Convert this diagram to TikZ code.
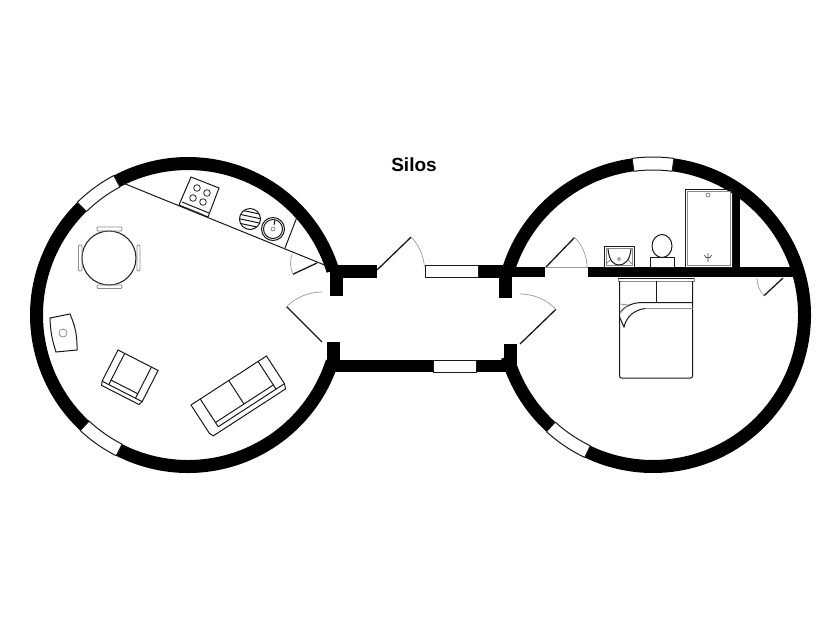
\documentclass[tikz,border=0pt]{standalone}
\usepackage{fontspec}
\setmainfont{Liberation Sans}
\usepackage{xcolor}
\usetikzlibrary{positioning,calc}
\definecolor{swingGrey}{HTML}{9A9A9A}
\definecolor{chairGrey}{HTML}{8C8C8C}
\tikzstyle{wallLine}  =[line width=13pt,line cap=butt,black]
\tikzstyle{wallFill}  =[fill=black,draw=none]
\tikzstyle{thinLine}  =[line width=1pt,black!90]
\tikzstyle{leafLine}  =[line width=1.3pt,black!90]
\tikzstyle{swingLine} =[line width=0.7pt,swingGrey]
\tikzstyle{chairLine} =[line width=0.8pt,chairGrey]
\newcommand{\siloWall}[3]{\draw[wallLine] (#1) ++(#2:151.5) arc[start angle=#2,end angle=#3,radius=151.5];}
\newcommand{\siloWindow}[3]{\draw[thinLine] (#1) ++(#2:158) arc[start angle=#2,end angle=#3,radius=158]
  (#1) ++(#2:145) arc[start angle=#2,end angle=#3,radius=145]
  (#1) ++(#2:145) -- ($(#1)+(#2:158)$)
  (#1) ++(#3:145) -- ($(#1)+(#3:158)$);}
\newcommand{\doorLeaf}[5]{\draw[leafLine] (#1,#2) -- ++(#3:#4);
  \draw[swingLine] (#1,#2) ++(#3:#4) arc[start angle=#3,end angle=#5,radius=#4];}
\begin{document}
\begin{tikzpicture}[x=1pt,y=-1pt]
  \useasboundingbox (0,0) rectangle (840,630);
  \coordinate (leftSilo) at (188,315);
  \coordinate (rightSilo) at (653,315);
  \node[font=\fontsize{19}{19}\selectfont\bfseries] (title) at (414,165) {Silos};

  \siloWall{leftSilo}{18}{117}
  \siloWall{leftSilo}{133}{225.5}
  \siloWall{leftSilo}{242}{343}
  \siloWall{rightSilo}{196}{262.4}
  \siloWall{rightSilo}{277.6}{475.6}
  \siloWall{rightSilo}{132.4}{164}
  \siloWindow{leftSilo}{117}{133}
  \siloWindow{leftSilo}{225.5}{242}
  \siloWindow{rightSilo}{262.4}{277.6}
  \siloWindow{rightSilo}{115.6}{132.4}

  \fill[wallFill] (330,265) rectangle (377,277.5);
  \fill[wallFill] (330,265) rectangle (343,296);
  \fill[wallFill] (478,265) rectangle (512,277.5);
  \fill[wallFill] (498.5,265) rectangle (512,298);
  \fill[wallFill] (498.5,267) rectangle (545,277);
  \fill[wallFill] (588,267) rectangle (795,277);
  \fill[wallFill] (733,190) rectangle (740,270);
  \fill[wallFill] (327,342) rectangle (340,372);
  \fill[wallFill] (327,360) rectangle (433,372);
  \fill[wallFill] (476.5,360) rectangle (517,372);
  \fill[wallFill] (503.5,344) rectangle (517,372);
  \draw[thinLine] (425,265) rectangle (478,277.5);
  \draw[thinLine] (433,360) rectangle (476.5,372);
  \draw[swingLine] (545,267) -- (588,267);

  \doorLeaf{377}{270}{-44}{47.5}{-4}
  \doorLeaf{322}{342}{225}{50}{270}
  \doorLeaf{520}{344}{316}{50}{270}
  \doorLeaf{546}{267}{-46}{41}{0}
  \doorLeaf{317}{263}{155}{26.5}{200}
  \doorLeaf{783}{278}{137}{26}{180}

  \draw[thinLine] (123,183) -- (327,266);
  \draw[thinLine] (297,217) -- (285,248);

  \draw[thinLine] (191,177) -- (219,188) -- (208,217) -- (179,205) -- cycle;
  \draw[thinLine] (182,202) -- (209,213);
  \draw[line width=0.6pt,black!70] (187,208) -- (202,214);
  \foreach \hobX/\hobY in {197/188,207/193,193/198,203/202}
    \draw[line width=0.8pt,black!85] (\hobX,\hobY) circle (3.3);

  \begin{scope}
    \clip (250,219) circle (10.5);
    \foreach \stripeY in {-7,-2.5,2,6.5}
      \draw[thinLine] ($(250,219)+(-14,\stripeY-3)$) -- ($(250,219)+(14,\stripeY+3)$);
  \end{scope}
  \draw[thinLine] (250,219) circle (10.5);
  \draw[thinLine] (273,229) circle (11.5);
  \draw[thinLine] (273,229) circle (9.5);
  \draw[line width=0.6pt,black!60] (273,229) circle (2);
  \draw[thinLine] (275,220) -- (274,225);

  \draw[line width=1.1pt,black!85] (109,258) circle (27);
  \draw[chairLine,rounded corners=1pt] (97,227) rectangle (122,231);
  \draw[chairLine,rounded corners=1pt] (97,285) rectangle (122,288.5);
  \draw[chairLine,rounded corners=1pt] (78.5,245) rectangle (82,271);
  \draw[chairLine,rounded corners=1pt] (137,245) rectangle (140,271);

  \draw[thinLine] (50,318) -- (70,314) to[bend left=12] (77,350) -- (56,352) to[bend left=8] cycle;
  \draw[chairLine] (63,333) circle (4);

  \begin{scope}[shift={(118,350)},rotate=-27]
    \draw[thinLine] (0,0) -- (45,0) -- (45,35) -- (43.5,39) -- (1.5,39) -- (0,35) -- cycle;
    \draw[thinLine] (7.5,0) -- (7.5,30) -- (37.5,30) -- (37.5,0);
    \draw[thinLine] (0,35) -- (45,35);
    \draw[thinLine] (7.5,30) -- (7.5,35) (37.5,30) -- (37.5,35);
  \end{scope}

  \begin{scope}[shift={(191,405)},rotate=33]
    \draw[thinLine] (0,0) -- (90,0) -- (90,33) -- (88,38) -- (2,38) -- (0,34) -- cycle;
    \draw[thinLine] (11,0) -- (11,33) (80,0) -- (80,33);
    \draw[thinLine] (45,0) -- (45,28);
    \draw[thinLine] (11,28) -- (80,28);
    \draw[thinLine] (11,33) -- (90,33);
  \end{scope}

  \draw[thinLine] (685,189) rectangle (732,267);
  \draw[chairLine] (687,191) rectangle (730,265);
  \draw[chairLine] (708,195) circle (2);
  \draw[line width=0.7pt,black!75] (708,262) -- (708,257) (704.5,255) .. controls (705,259) and (711,259) .. (711.5,255) (708,257) -- (708,253);

  \draw[thinLine] (604,246) rectangle (634,267);
  \draw[chairLine] (606,248) rectangle (632,265);
  \draw[thinLine] (608,249) .. controls (609,261) and (614,265) .. (619,265) .. controls (624,265) and (630,261) .. (631,249);
  \draw[chairLine] (619,259) circle (1.5);
  \draw[chairLine] (606,264) -- (610,260) (632,264) -- (628,260);

  \draw[thinLine] (662,246) ellipse (10 and 11.5);
  \draw[thinLine,fill=white] (650,257) rectangle (674,267);

  \draw[chairLine] (618,278) rectangle (694,281);
  \draw[thinLine] (618,278) -- (694,278);
  \draw[thinLine,rounded corners=2pt] (619.5,281) -- (619.5,378) -- (692.5,378) -- (692.5,281);
  \draw[thinLine] (656,281) -- (656,303);
  \draw[thinLine] (693,302.5) -- (641,302.5) .. controls (630,303) and (623,308) .. (620,313);
  \draw[chairLine] (693,308.5) -- (645,308.5);
  \draw[thinLine] (645,308.5) .. controls (633,310) and (626,318) .. (624,327) -- (619.5,317);
  \draw[chairLine] (620,304) -- (628,305) -- (620,313);
\end{tikzpicture}
\end{document}
